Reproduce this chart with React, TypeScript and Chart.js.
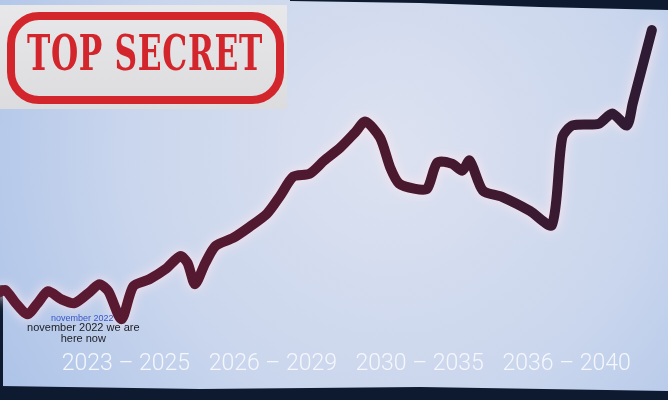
import React, { useEffect, useRef } from "react";
import { Chart, registerables } from "chart.js";

Chart.register(...registerables);

// x position measured in "period" units (0..1 = 2023–2025, 1..2 = 2026–2029, ...)
const xPositions = [
  -0.36, -0.32, -0.25, -0.17, -0.1, -0.03, 0.06, 0.15, 0.26, 0.32, 0.38, 0.47,
  0.55, 0.66, 0.77, 0.87, 0.92, 0.97, 1.04, 1.11, 1.23, 1.34, 1.46, 1.55, 1.64,
  1.75, 1.85, 1.96, 2.06, 2.13, 2.23, 2.3, 2.36, 2.47, 2.55, 2.62, 2.72, 2.79,
  2.84, 2.93, 3.06, 3.25, 3.4, 3.47, 3.54, 3.72, 3.81, 3.91, 3.95, 4.0, 4.08,
];
const values = [
  16.6, 17.2, 13.5, 10.3, 13.5, 16.9, 14.6, 13.5, 16.9, 18.9, 16.9, 8.9,
  18.3, 20.3, 23.2, 26.9, 24.9, 18.9, 24.9, 29.8, 32.1, 35.2, 39.0, 44.1, 49.6,
  50.4, 54.2, 57.9, 62.2, 65.3, 60.7, 52.1, 47.6, 46.1, 46.1, 53.6, 53.3, 51.3,
  54.2, 45.6, 43.8, 39.8, 35.8, 60.7, 64.2, 64.7, 67.6, 64.2, 70.5, 78.5, 91.4,
];
const periodLabels = ["2023 – 2025", "2026 – 2029", "2030 – 2035", "2036 – 2040"];
const periodCenters = [0.5, 1.5, 2.5, 3.5];
const stampText = "TOP SECRET";
const noteSmall = "november 2022";
const noteLines = ["november 2022 we are", "here now"];
const noteX = 0.21;
const noteY = 6.5;

const backgroundPlugin = {
  id: "bgPlugin",
  beforeDraw(chart: any) {
    const { ctx, width, height } = chart;
    ctx.save();
    const g = ctx.createRadialGradient(390, 150, 20, 390, 150, 500);
    g.addColorStop(0, "#dbe1f0");
    g.addColorStop(0.5, "#cad6ed");
    g.addColorStop(1, "#a6bfe7");
    ctx.fillStyle = g;
    ctx.fillRect(0, 0, width, height);
    // dark frame edges
    ctx.fillStyle = "#0e1a2f";
    ctx.beginPath();
    ctx.moveTo(290, 0);
    ctx.lineTo(width, 0);
    ctx.lineTo(width, 10);
    ctx.lineTo(540, 7);
    ctx.lineTo(420, 3);
    ctx.lineTo(290, 1);
    ctx.closePath();
    ctx.fill();
    ctx.beginPath();
    ctx.moveTo(0, 386);
    ctx.lineTo(200, 389);
    ctx.lineTo(420, 387);
    ctx.lineTo(width, 391);
    ctx.lineTo(width, height);
    ctx.lineTo(0, height);
    ctx.closePath();
    ctx.fill();
    ctx.fillRect(0, 285, 3, 115);
    ctx.restore();
  },
};

const glowPlugin = {
  id: "glowPlugin",
  beforeDatasetDraw(chart: any) {
    const ctx = chart.ctx;
    ctx.save();
    ctx.shadowColor = "rgba(255,230,238,0.95)";
    ctx.shadowBlur = 12;
  },
  afterDatasetDraw(chart: any) {
    chart.ctx.restore();
  },
};

const overlayPlugin = {
  id: "overlayPlugin",
  afterDraw(chart: any) {
    const { ctx, scales } = chart;
    ctx.save();
    // stamp
    const sg = ctx.createLinearGradient(0, 5, 0, 109);
    sg.addColorStop(0, "#e8e8ea");
    sg.addColorStop(1, "#dcdcdf");
    ctx.fillStyle = sg;
    ctx.fillRect(0, 5, 287, 104);
    ctx.strokeStyle = "#d3262c";
    ctx.lineWidth = 8;
    ctx.beginPath();
    (ctx as any).roundRect(11, 16, 269, 84, 28);
    ctx.stroke();
    ctx.fillStyle = "#d3262c";
    ctx.font = 'bold 48px "DejaVu Serif"';
    (ctx as any).letterSpacing = "1px";
    ctx.textAlign = "center";
    ctx.textBaseline = "middle";
    ctx.fillText(stampText, 145, 58, 236);
    (ctx as any).letterSpacing = "0px";
    // annotation
    const px = scales.x.getPixelForValue(noteX);
    const py = scales.y.getPixelForValue(noteY);
    ctx.font = '9px "Liberation Sans"';
    ctx.fillStyle = "#3a55c8";
    ctx.fillText(noteSmall, px - 1, py - 9);
    ctx.font = '11px "Liberation Sans"';
    ctx.fillStyle = "#1c1c24";
    ctx.fillText(noteLines[0], px, py);
    ctx.fillText(noteLines[1], px, py + 11);
    ctx.restore();
  },
};

export default function App() {
  const ref = useRef<HTMLCanvasElement | null>(null);
  useEffect(() => {
    document.body.style.margin = "0";
    const canvas = ref.current!;
    const chart = new Chart(canvas, {
      type: "line",
      data: {
        datasets: [
          {
            data: xPositions.map((x, i) => ({ x, y: values[i] })),
            borderColor: (c: any) => {
              const area = c.chart.chartArea;
              if (!area) return "#4a1a2c";
              const g = c.chart.ctx.createLinearGradient(area.left, 0, area.right, 0);
              g.addColorStop(0, "#5e1a32");
              g.addColorStop(0.6, "#4a192e");
              g.addColorStop(1, "#2c1b34");
              return g;
            },
            borderWidth: 10,
            borderCapStyle: "round",
            borderJoinStyle: "round",
            pointRadius: 0,
            tension: 0.25,
            fill: false,
          },
        ],
      },
      options: {
        responsive: false,
        animation: false,
        devicePixelRatio: 1,
        layout: { padding: { left: 0, right: 0, top: 0, bottom: 22 } },
        plugins: { legend: { display: false }, tooltip: { enabled: false } },
        scales: {
          x: {
            type: "linear",
            min: -0.357,
            max: 4.19,
            grid: { display: false, drawTicks: false },
            border: { display: false },
            afterBuildTicks: (axis: any) => {
              axis.ticks = periodCenters.map((v) => ({ value: v }));
            },
            ticks: {
              autoSkip: false,
              maxRotation: 0,
              padding: 0,
              color: "#f5f7fc",
              font: { family: "Roboto", size: 23, weight: "300" },
              callback: (v: any) => {
                const i = periodCenters.indexOf(Number(v));
                return i >= 0 ? periodLabels[i] : "";
              },
            },
          },
          y: { display: false, min: 0, max: 100 },
        },
      },
      plugins: [backgroundPlugin, glowPlugin, overlayPlugin],
    } as any);
    return () => chart.destroy();
  }, []);
  return <canvas ref={ref} width={668} height={400} style={{ display: "block" }} />;
}
